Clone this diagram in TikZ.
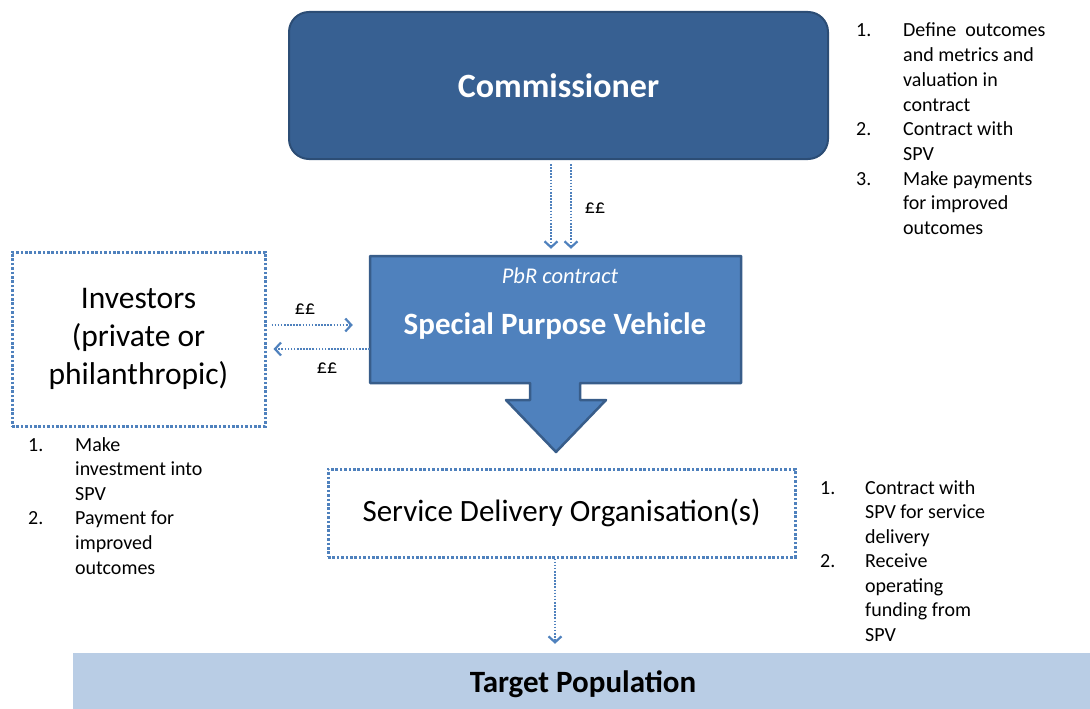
\documentclass[tikz,border=0pt]{standalone}
\usepackage{fontspec}
\setmainfont{Carlito}
\usetikzlibrary{arrows.meta}
\definecolor{commblue}{RGB}{55,96,146}
\definecolor{commedge}{RGB}{44,77,117}
\definecolor{spvblue}{RGB}{79,129,189}
\definecolor{spvedge}{RGB}{56,93,138}
\definecolor{targetblue}{RGB}{185,205,229}
\newcommand{\fsz}[2]{\fontsize{#1}{#2}\selectfont}
\begin{document}
\begin{tikzpicture}[
              x = 1pt, y = -1pt,
              dotbox/.style = {draw = spvblue, line width = 3pt, dash pattern = on 2.6pt off 1.8pt},
              flow/.style = {draw = spvblue, line width = 2.2pt, dash pattern = on 1.6pt off 1.5pt,
                             -{Straight Barb[length = 6pt, width = 13pt]}},
              steplist/.style = {anchor = base west, inner sep = 0pt, align = left},
              pounds/.style = {font = \fsz{20}{23}}
            ]
            \useasboundingbox (0,0) rectangle (1090,709);
            % boxes
            \node[fill = commblue, draw = commedge, line width = 2pt, rounded corners = 20pt,
                  minimum width = 539pt, minimum height = 147pt,
                  text = white, font = \fsz{34}{40}\bfseries] (comm) at (558.5,85.5) {Commissioner};
            \draw[fill = spvblue, draw = spvedge, line width = 2.5pt, line join = round]
              (370,256) -- (741,256) -- (741,383) -- (580,383) -- (580,400) -- (606,400)
              -- (556,452) -- (506,400) -- (530,400) -- (530,383) -- (370,383) -- cycle;
            \node[minimum width = 371pt, minimum height = 127pt] (spv) at (555.5,319.5) {};
            \node[text = white, font = \fsz{22.5}{26}\itshape] (pbr) at (560,276) {PbR contract};
            \node[text = white, font = \fsz{31}{36}\bfseries] (spvname) at (555,326) {Special Purpose Vehicle};
            \node[dotbox, minimum width = 253pt, minimum height = 174pt, align = center,
                  font = \fsz{31.5}{38}] (inv) at (138.5,339) {Investors\\(private or\\philanthropic)};
            \node[dotbox, minimum width = 467pt, minimum height = 88pt,
                  font = \fsz{31}{38}] (sdo) at (561.5,513) {Service Delivery Organisation(s)};
            \node[fill = targetblue, minimum width = 1030pt, minimum height = 58pt, inner sep = 0pt] (target) at (588,682) {};
            \node[font = \fsz{31}{36}\bfseries] (targetname) at (583,684) {Target Population};
            % the money flows
            \draw[flow, shorten <= 4pt, shorten >= 7pt] ([xshift = -7.5pt]comm.south) -- ([xshift = -7.5pt]comm.south |- spv.north);
            \draw[flow, shorten <= 4pt, shorten >= 7pt] ([xshift = 12.5pt]comm.south) -- ([xshift = 12.5pt]comm.south |- spv.north);
            \node[pounds] (poundsC) at (595,208) {££};
            \draw[flow, shorten <= 5pt, shorten >= 17pt] ([yshift = 14pt]inv.east) -- ([yshift = 14pt]inv.east -| spv.west);
            \draw[flow, shorten >= 7pt] ([yshift = -10pt]inv.east -| spv.west) -- ([yshift = -10pt]inv.east);
            \node[pounds] (poundsI) at (305,309) {££};
            \node[pounds] (poundsS) at (327,368) {££};
            \draw[flow, shorten >= 9pt] ([xshift = -6.5pt]sdo.south) -- ([xshift = -6.5pt]sdo.south |- target.north);
            % who does what
            \node[steplist, font = \fsz{20}{24.7}] (commsteps) at (856,37) {%
              \begin{tabular}[t]{@{}p{47pt}@{}l@{}}
                1. & Define\ \ outcomes \\ & and metrics and \\ & valuation in \\ & contract \\
                2. & Contract with \\ & SPV \\
                3. & Make payments \\ & for improved \\ & outcomes
              \end{tabular}};
            \node[steplist, font = \fsz{20}{24.6}] (invsteps) at (28,451) {%
              \begin{tabular}[t]{@{}p{47pt}@{}l@{}}
                1. & Make \\ & investment into \\ & SPV \\
                2. & Payment for \\ & improved \\ & outcomes
              \end{tabular}};
            \node[steplist, font = \fsz{20}{24.5}] (sdosteps) at (820,494) {%
              \begin{tabular}[t]{@{}p{45pt}@{}l@{}}
                1. & Contract with \\ & SPV for service \\ & delivery \\
                2. & Receive \\ & operating \\ & funding from \\ & SPV
              \end{tabular}};
          \end{tikzpicture}
\end{document}
